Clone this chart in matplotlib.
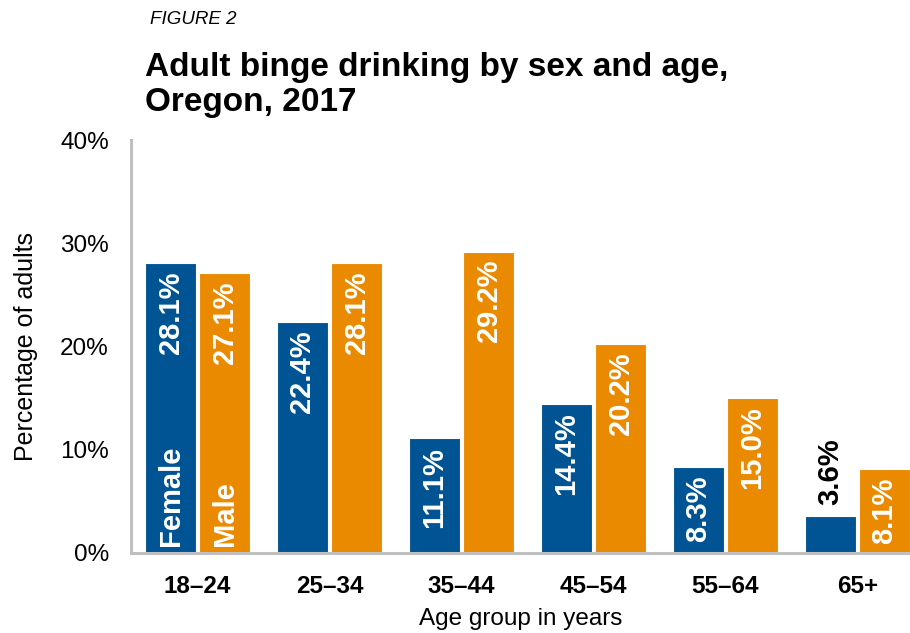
import matplotlib.pyplot as plt
import numpy as np

plt.rcParams['font.family'] = ['Liberation Sans', 'DejaVu Sans']

age_groups = ['18–24', '25–34', '35–44', '45–54', '55–64', '65+']
female = [28.1, 22.4, 11.1, 14.4, 8.3, 3.6]
male = [27.1, 28.1, 29.2, 20.2, 15.0, 8.1]

BLUE = '#005493'
ORANGE = '#E98A00'
GRAY = '#BFBFBF'


def label_bars(ax, xs, values, series_name=None):
    for x, v in zip(xs, values):
        text = f'{v:.1f}%'
        if v < 5:
            # too short to hold the label, put it above in black
            ax.annotate(text, (x, v), xytext=(0, 8), textcoords='offset points',
                        rotation=90, ha='center', va='bottom',
                        fontsize=21, fontweight='bold', color='black')
        else:
            ax.annotate(text, (x, v), xytext=(0, -6), textcoords='offset points',
                        rotation=90, ha='center', va='top',
                        fontsize=21, fontweight='bold', color='white')
    if series_name:
        ax.annotate(series_name, (xs[0], 0), xytext=(0, 5), textcoords='offset points',
                    rotation=90, ha='center', va='bottom',
                    fontsize=21, fontweight='bold', color='white')


def plot_binge_drinking():
    fig = plt.figure(figsize=(9.1, 6.33), dpi=100)
    ax = fig.add_axes([0.144, 0.1264, 0.856, 0.6524])

    x = np.arange(len(age_groups))
    width = 0.386
    offset = 0.205
    ax.bar(x - offset, female, width, color=BLUE, edgecolor='white', linewidth=0.8)
    ax.bar(x + offset, male, width, color=ORANGE, edgecolor='white', linewidth=0.8)

    label_bars(ax, x - offset, female, 'Female')
    label_bars(ax, x + offset, male, 'Male')

    ax.set_xlim(-0.504, 5.398)
    ax.set_ylim(0, 40)
    ax.set_yticks([0, 10, 20, 30, 40])
    ax.set_yticklabels(['0%', '10%', '20%', '30%', '40%'])
    ax.set_xticks(x)
    ax.set_xticklabels(age_groups, fontweight='bold')
    ax.tick_params(axis='y', length=0, pad=16, labelsize=17.5)
    ax.tick_params(axis='x', length=0, pad=16, labelsize=17.5)

    for side in ['top', 'right']:
        ax.spines[side].set_visible(False)
    for side in ['left', 'bottom']:
        ax.spines[side].set_color(GRAY)
        ax.spines[side].set_linewidth(2.2)

    ax.set_xlabel('Age group in years', fontsize=17.5, labelpad=7)
    ax.set_ylabel('Percentage of adults', fontsize=18, labelpad=16)

    fig.text(0.165, 1 - 24 / 633, 'FIGURE 2', fontsize=13.5, fontstyle='italic',
             ha='left', va='baseline')
    fig.text(0.159, 1 - 111 / 633, 'Adult binge drinking by sex and age,\nOregon, 2017',
             fontsize=24, fontweight='bold', ha='left', va='baseline',
             linespacing=1.15)

    fig.savefig('out.png', dpi=100)


if __name__ == '__main__':
    plot_binge_drinking()
